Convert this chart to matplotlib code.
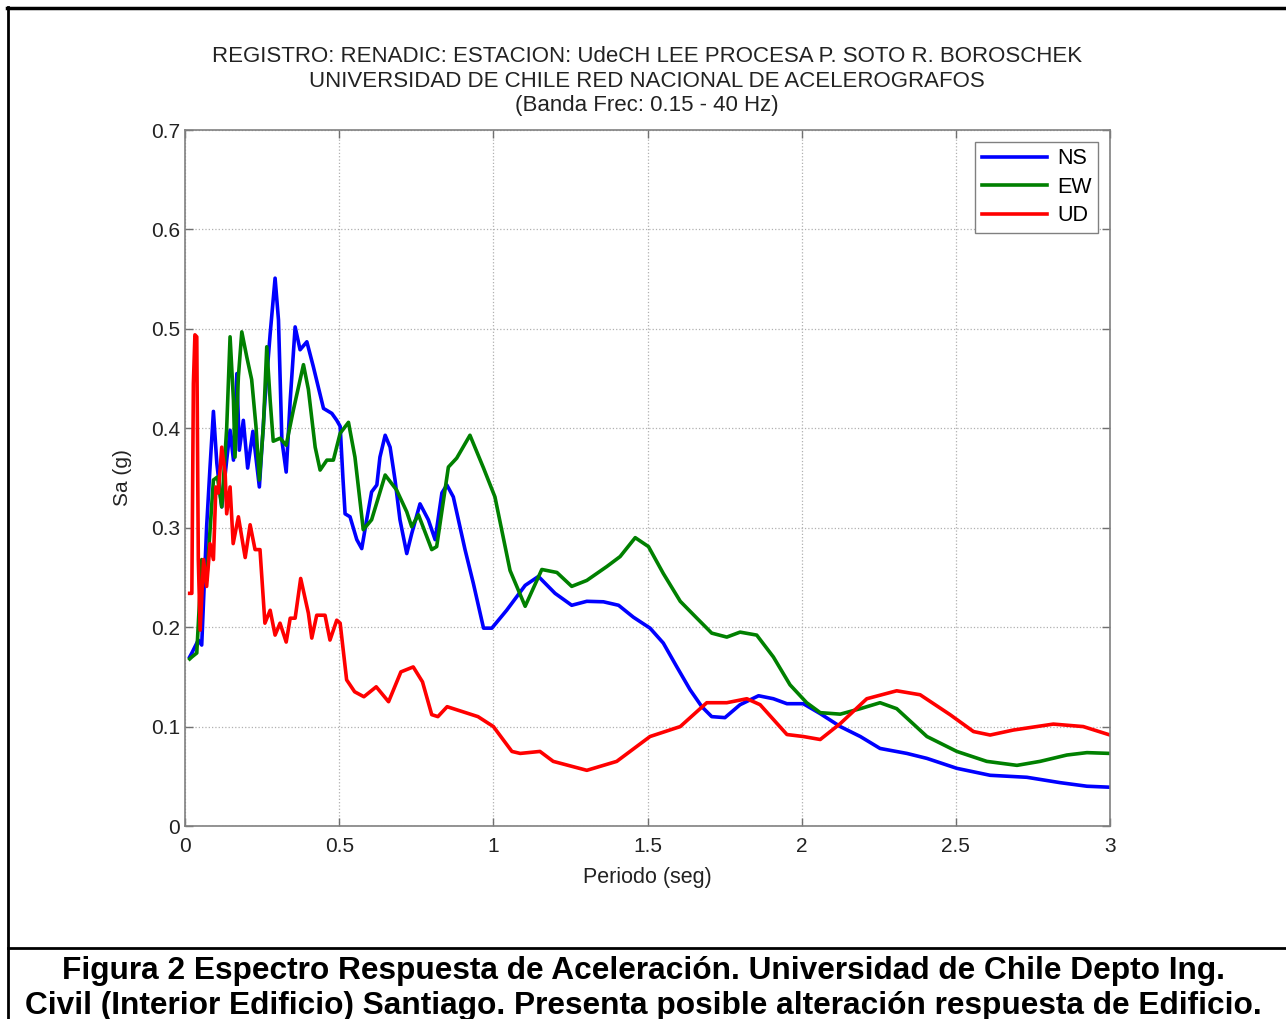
import matplotlib.pyplot as plt
from matplotlib.lines import Line2D

plt.rcParams['font.family'] = ['Liberation Sans', 'DejaVu Sans']

# Espectro de respuesta de aceleracion, componente NS
periodo_ns = [0.015, 0.022, 0.043, 0.054, 0.07, 0.081, 0.092, 0.103, 0.119, 0.135, 0.146, 0.157,
              0.168, 0.176, 0.189, 0.203, 0.22, 0.241, 0.259, 0.276, 0.292, 0.303, 0.314, 0.328,
              0.341, 0.357, 0.373, 0.395, 0.416, 0.449, 0.476, 0.492, 0.503, 0.512, 0.519, 0.535,
              0.557, 0.573, 0.589, 0.605, 0.622, 0.632, 0.649, 0.665, 0.681, 0.697, 0.719, 0.735,
              0.762, 0.789, 0.811, 0.833, 0.849, 0.870, 0.908, 0.935, 0.968, 0.995, 1.043, 1.103,
              1.146, 1.2, 1.254, 1.303, 1.357, 1.406, 1.454, 1.508, 1.551, 1.595, 1.638, 1.676,
              1.708, 1.751, 1.8, 1.86, 1.908, 1.952, 2.005, 2.06, 2.125, 2.19, 2.254, 2.341,
              2.406, 2.503, 2.611, 2.73, 2.838, 2.925, 3.0]
sa_ns = [0.170, 0.174, 0.187, 0.182, 0.301, 0.361, 0.417, 0.365, 0.321, 0.368, 0.398, 0.368,
         0.455, 0.378, 0.408, 0.360, 0.397, 0.341, 0.428, 0.495, 0.551, 0.509, 0.388, 0.356,
         0.428, 0.502, 0.479, 0.487, 0.462, 0.420, 0.415, 0.408, 0.402, 0.350, 0.314, 0.311,
         0.288, 0.279, 0.308, 0.336, 0.343, 0.371, 0.393, 0.381, 0.348, 0.308, 0.274, 0.294,
         0.324, 0.308, 0.288, 0.335, 0.343, 0.331, 0.278, 0.244, 0.199, 0.199, 0.217, 0.242,
         0.251, 0.234, 0.222, 0.226, 0.2255, 0.222, 0.210, 0.199, 0.184, 0.160, 0.137, 0.120,
         0.110, 0.109, 0.122, 0.131, 0.128, 0.123, 0.123, 0.113, 0.100, 0.090, 0.078, 0.073,
         0.068, 0.058, 0.051, 0.049, 0.0436, 0.040, 0.039]

# Componente EW
periodo_ew = [0.015, 0.022, 0.038, 0.054, 0.07, 0.092, 0.105, 0.119, 0.135, 0.146, 0.157, 0.162,
              0.173, 0.184, 0.2, 0.216, 0.23, 0.241, 0.254, 0.265, 0.276, 0.286, 0.308, 0.328,
              0.351, 0.384, 0.4, 0.422, 0.438, 0.46, 0.481, 0.503, 0.53, 0.551, 0.578, 0.605,
              0.649, 0.686, 0.719, 0.735, 0.757, 0.80, 0.816, 0.854, 0.881, 0.924, 0.968, 1.005,
              1.054, 1.103, 1.157, 1.206, 1.254, 1.303, 1.368, 1.411, 1.46, 1.503, 1.551, 1.606,
              1.66, 1.708, 1.757, 1.8, 1.854, 1.908, 1.962, 2.016, 2.06, 2.125, 2.19, 2.254,
              2.308, 2.406, 2.503, 2.6, 2.698, 2.773, 2.86, 2.925, 3.0]
sa_ew = [0.168, 0.170, 0.174, 0.268, 0.247, 0.348, 0.351, 0.321, 0.400, 0.492, 0.428, 0.371,
         0.452, 0.497, 0.472, 0.449, 0.402, 0.348, 0.402, 0.482, 0.428, 0.387, 0.390, 0.383,
         0.418, 0.464, 0.439, 0.381, 0.358, 0.368, 0.368, 0.395, 0.406, 0.371, 0.298, 0.308,
         0.353, 0.338, 0.316, 0.301, 0.313, 0.278, 0.281, 0.361, 0.370, 0.393, 0.360, 0.331,
         0.257, 0.221, 0.258, 0.255, 0.241, 0.247, 0.261, 0.271, 0.290, 0.281, 0.254, 0.226,
         0.209, 0.194, 0.190, 0.195, 0.192, 0.170, 0.142, 0.124, 0.114, 0.1125, 0.118, 0.124,
         0.118, 0.090, 0.075, 0.065, 0.061, 0.065, 0.0714, 0.0738, 0.073]

# Componente UD
periodo_ud = [0.015, 0.022, 0.027, 0.032, 0.038, 0.043, 0.049, 0.06, 0.07, 0.081, 0.092, 0.1,
              0.108, 0.119, 0.13, 0.135, 0.146, 0.156, 0.173, 0.195, 0.211, 0.227, 0.243, 0.259,
              0.276, 0.292, 0.308, 0.328, 0.341, 0.357, 0.375, 0.40, 0.411, 0.427, 0.454, 0.47,
              0.492, 0.503, 0.524, 0.55, 0.58, 0.62, 0.66, 0.70, 0.74, 0.77, 0.80, 0.82, 0.85,
              0.90, 0.95, 1.0, 1.06, 1.087, 1.151, 1.194, 1.303, 1.40, 1.508, 1.606, 1.692,
              1.757, 1.822, 1.865, 1.952, 2.005, 2.06, 2.125, 2.211, 2.308, 2.384, 2.481, 2.557,
              2.611, 2.686, 2.816, 2.913, 3.0]
sa_ud = [0.234, 0.234, 0.445, 0.494, 0.492, 0.268, 0.197, 0.268, 0.241, 0.284, 0.268, 0.341,
         0.335, 0.381, 0.355, 0.314, 0.341, 0.284, 0.311, 0.270, 0.303, 0.278, 0.278, 0.204,
         0.217, 0.192, 0.204, 0.185, 0.209, 0.209, 0.249, 0.214, 0.189, 0.212, 0.212, 0.187,
         0.207, 0.204, 0.147, 0.135, 0.130, 0.140, 0.125, 0.155, 0.160, 0.145, 0.112, 0.110,
         0.120, 0.115, 0.110, 0.100, 0.075, 0.073, 0.075, 0.065, 0.056, 0.065, 0.090, 0.100,
         0.124, 0.124, 0.128, 0.122, 0.092, 0.090, 0.087, 0.103, 0.128, 0.136, 0.132, 0.112,
         0.095, 0.0915, 0.0965, 0.1025, 0.100, 0.0915]

titulo = ['REGISTRO: RENADIC: ESTACION: UdeCH LEE PROCESA P. SOTO R. BOROSCHEK',
          'UNIVERSIDAD DE CHILE RED NACIONAL DE ACELEROGRAFOS',
          '(Banda Frec: 0.15 - 40 Hz)']
leyenda = ['Figura 2 Espectro Respuesta de Aceleración. Universidad de Chile Depto Ing.',
           'Civil (Interior Edificio) Santiago. Presenta posible alteración respuesta de Edificio.']

fig = plt.figure(figsize=(12.86, 10.19), dpi=100)
ax = fig.add_axes([0.1439, 0.1894, 0.7193, 0.683])

ax.plot(periodo_ns, sa_ns, color=(0, 0, 1), lw=2.6, label='NS')
ax.plot(periodo_ew, sa_ew, color=(0, 0.5, 0), lw=2.6, label='EW')
ax.plot(periodo_ud, sa_ud, color=(1, 0, 0), lw=2.6, label='UD')

ax.set_xlim(0, 3)
ax.set_ylim(0, 0.7)
ax.set_xticks([0, 0.5, 1, 1.5, 2, 2.5, 3])
ax.set_xticklabels(['0', '0.5', '1', '1.5', '2', '2.5', '3'])
ax.set_yticks([0, 0.1, 0.2, 0.3, 0.4, 0.5, 0.6, 0.7])
ax.set_yticklabels(['0', '0.1', '0.2', '0.3', '0.4', '0.5', '0.6', '0.7'])
ax.grid(True, linestyle=':', color='#b0b0b0', lw=0.9)
ax.tick_params(direction='in', length=6, width=1, colors='#707070', labelcolor='#222222',
               labelsize=15, top=True, right=True)
ax.tick_params(axis='x', pad=8)
for s in ax.spines.values():
    s.set_color('#808080')
    s.set_linewidth(1.2)

ax.set_xlabel('Periodo (seg)', fontsize=15.5, color='#222222', labelpad=8)
ax.set_ylabel('Sa (g)', fontsize=15, color='#222222', labelpad=14)

leg = ax.legend(loc='upper right', fontsize=15.5, handlelength=3.0, fancybox=False,
                edgecolor='#808080', framealpha=1, borderaxespad=0.55, labelspacing=0.35,
                handletextpad=0.5, borderpad=0.3)
leg.get_frame().set_linewidth(1.0)

for i, linea in enumerate(titulo):
    fig.text(0.503, 0.945 - i * 0.0245, linea, ha='center', va='center', fontsize=16,
             color='#222222')

for i, linea in enumerate(leyenda):
    fig.text(0.5, 0.047 - i * 0.0345, linea, ha='center', va='center', fontsize=22.8,
             fontweight='bold')

# Marco de la figura
fig.add_artist(Line2D([0.0055, 1], [0.9925, 0.9925], color='black', lw=2.5))
fig.add_artist(Line2D([0.0065, 0.0065], [0, 0.993], color='black', lw=2))
fig.add_artist(Line2D([0.0065, 1], [0.0697, 0.0697], color='black', lw=2))

fig.savefig('out.png', dpi=100)
